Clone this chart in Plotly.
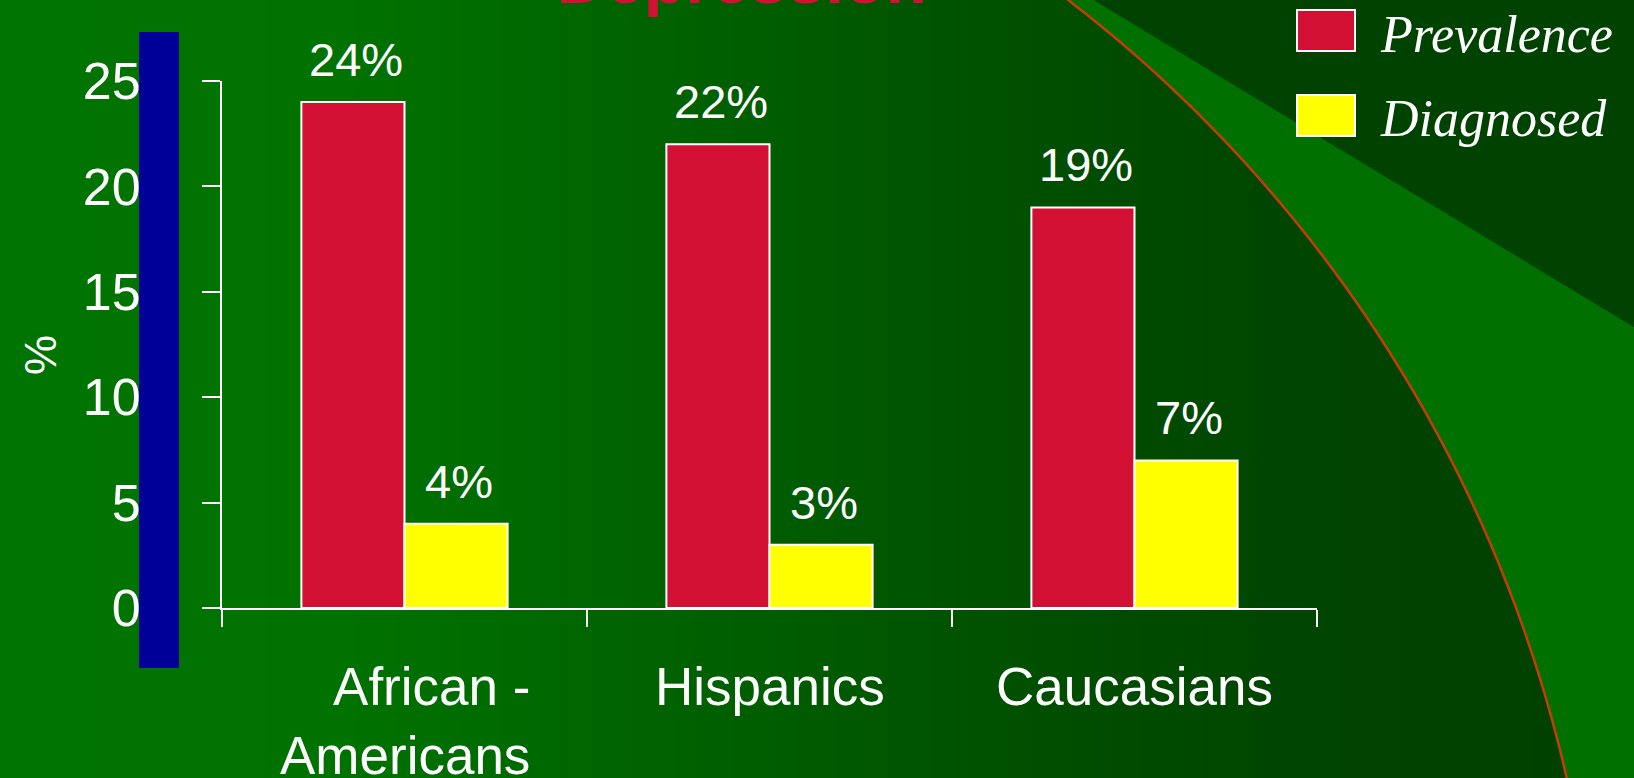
import math
import plotly.graph_objects as go

# ---------------- data ----------------
categories = ["African - Americans", "Hispanics", "Caucasians"]
category_labels = ["African -<br>Americans", "Hispanics", "Caucasians"]
series_names = ["Prevalence", "Diagnosed"]
prevalence = [24, 22, 19]
diagnosed = [4, 3, 7]
y_ticks = [0, 5, 10, 15, 20, 25]
title_text = "Depression"
y_title = "%"

series_values = [prevalence, diagnosed]
series_colors = ["#d21034", "#ffff00"]

# ---------------- geometry ----------------
W, H = 1634, 778
ML, MR, MT, MB = 222, 317, 81, 170
PW = W - ML - MR
PH = H - MT - MB
BARGAP = 0.435
BAR_W = PW / len(categories) * (1 - BARGAP) / 2


def px(x):
    return (x - ML) / PW


def py(y):
    return (H - MB - y) / PH


def path_from(points, close=False):
    s = "M " + " L ".join(f"{px(x):.5f},{py(y):.5f}" for x, y in points)
    return s + (" Z" if close else "")


shapes = []

# background horizontal gradient (decoration)
stops = [(0, 0x74), (350, 0x72), (1100, 0x4c), (1300, 0x45), (1634, 0x40)]


def g_at(x):
    for (x0, g0), (x1, g1) in zip(stops[:-1], stops[1:]):
        if x0 <= x <= x1:
            return round(g0 + (g1 - g0) * (x - x0) / (x1 - x0))
    return stops[-1][1]


N = 160
for i in range(N):
    x0 = W * i / N
    x1 = W * (i + 1) / N
    shapes.append(dict(type="rect", xref="paper", yref="paper",
                       x0=px(x0 - 0.5), x1=px(x1 + 0.5), y0=py(H + 5), y1=py(-5),
                       fillcolor=f"rgb(0,{g_at((x0 + x1) / 2)},0)",
                       line=dict(width=0), layer="below"))

# decorative arc
cx, cy, R = 236, 1082, 1365
arc = []
for k in range(121):
    th = math.radians(53.5 - (53.5 - 12.0) * k / 120)
    arc.append((cx + R * math.cos(th), cy - R * math.sin(th)))

bright = arc + [(1700, 798), (1700, 367), (1069, -15)]
shapes.append(dict(type="path", xref="paper", yref="paper", path=path_from(bright, True),
                   fillcolor="#007000", line=dict(width=0), layer="below"))
shapes.append(dict(type="path", xref="paper", yref="paper",
                   path=path_from([(1069, -15), (1700, 367), (1700, -15)], True),
                   fillcolor="#004300", line=dict(width=0), layer="below"))
shapes.append(dict(type="path", xref="paper", yref="paper", path=path_from(arc),
                   line=dict(color="#c83c00", width=2.5), layer="below"))

# blue vertical bar
shapes.append(dict(type="rect", xref="paper", yref="paper",
                   x0=px(139), x1=px(179), y0=py(668), y1=py(32),
                   fillcolor="#000099", line=dict(width=0), layer="above"))

# legend swatches
sw = [(10, 51), (95, 136)]
for (t, b), col in zip(sw, series_colors):
    shapes.append(dict(type="rect", xref="paper", yref="paper",
                       x0=px(1297), x1=px(1355), y0=py(b), y1=py(t),
                       fillcolor=col, line=dict(color="white", width=2), layer="above"))

# ---------------- figure ----------------
fig = go.Figure()
for name, vals, col in zip(series_names, series_values, series_colors):
    fig.add_trace(go.Bar(x=categories, y=vals, name=name,
                         marker=dict(color=col, line=dict(color="white", width=2)),
                         showlegend=False))

annotations = []
# value labels
for si, vals in enumerate(series_values):
    off = (-0.5 if si == 0 else 0.5) * BAR_W + 3
    for c, v in zip(categories, vals):
        annotations.append(dict(x=c, y=v, xref="x", yref="y", text=f"{v}%",
                                showarrow=False, xshift=off, yanchor="bottom", yshift=14,
                                font=dict(family="Liberation Sans", size=47, color="white")))
# category labels
for c, lab in zip(categories, category_labels):
    annotations.append(dict(x=c, y=0, xref="x", yref="y", text=lab,
                            showarrow=False, yanchor="top", yshift=-47, align="right",
                            font=dict(family="Liberation Sans", size=53, color="white")))
# y title
annotations.append(dict(x=px(40), y=py(355), xref="paper", yref="paper", text=y_title,
                        textangle=-90, showarrow=False, xanchor="center", yanchor="middle",
                        font=dict(family="Liberation Sans", size=45, color="white")))
# legend texts
for name, yc in zip(series_names, [34, 118]):
    annotations.append(dict(x=px(1378), y=py(yc), xref="paper", yref="paper", text=name,
                            showarrow=False, xanchor="left", yanchor="middle",
                            font=dict(family="Liberation Serif", size=52, color="white",
                                      style="italic")))

fig.update_layout(
    width=W, height=H,
    margin=dict(l=ML, r=MR, t=MT, b=MB, pad=0),
    paper_bgcolor="#007400",
    plot_bgcolor="rgba(0,0,0,0)",
    barmode="group", bargap=BARGAP, bargroupgap=0,
    showlegend=False,
    title=dict(text=title_text, x=742 / W, xanchor="center", xref="container",
               y=1 - 3 / H, yanchor="bottom", yref="container",
               font=dict(family="Liberation Sans", size=68, color="#d21034", weight="bold")),
    shapes=shapes,
    annotations=annotations,
)
fig.update_xaxes(type="category", range=[-0.5, len(categories) - 0.5],
                 showline=True, linecolor="white", linewidth=2,
                 ticks="outside", tickson="boundaries", ticklen=17, tickwidth=2,
                 tickcolor="white", showticklabels=False, showgrid=False, zeroline=False)
fig.update_yaxes(range=[0, 25], tickvals=y_ticks, showline=True, linecolor="white",
                 linewidth=2, ticks="outside", ticklen=18, tickwidth=2, tickcolor="white",
                 ticklabelstandoff=51, showgrid=False, zeroline=False,
                 tickfont=dict(family="Liberation Sans", size=52, color="white"))

fig.write_html("out.html", config={"displayModeBar": False},
               post_script="document.body.style.margin='0';document.body.style.overflow='hidden';")
